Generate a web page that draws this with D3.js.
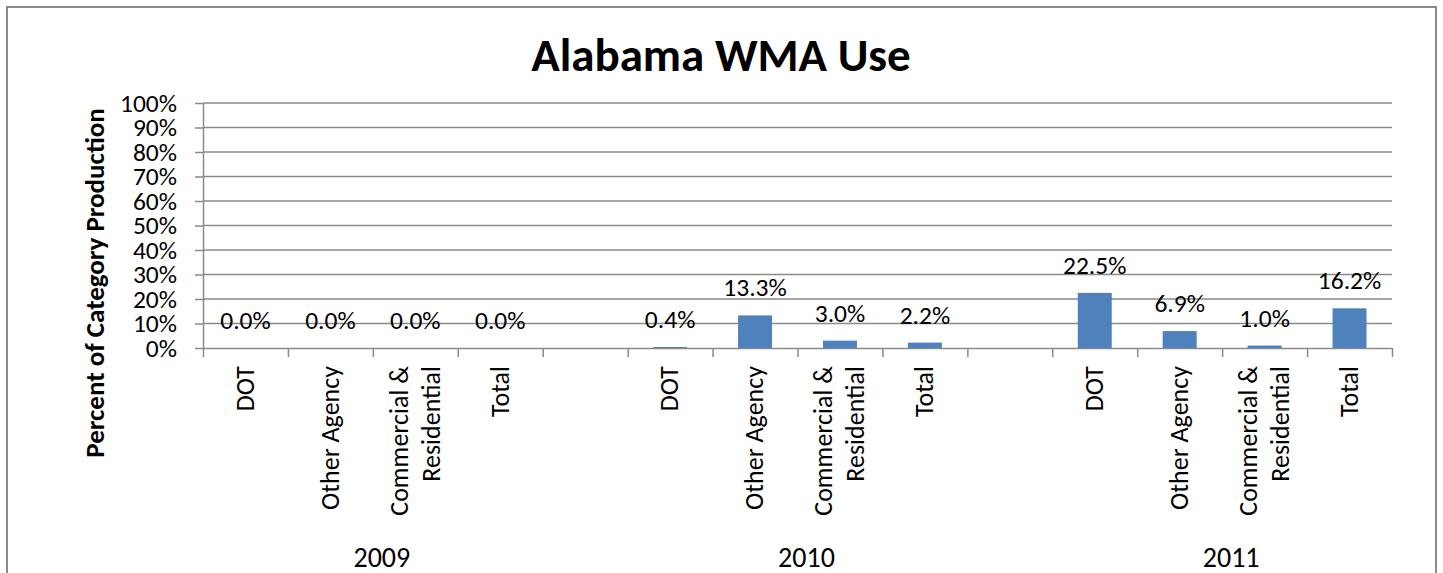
<!DOCTYPE html>
<html><head><meta charset="utf-8">
<script src="https://cdn.jsdelivr.net/npm/d3@7"></script>
<style>
html,body{margin:0;padding:0;background:#fff;}
svg{display:block;}
</style></head><body>
<svg id="chart" width="1443" height="573"></svg>
<script>
// ---- data ----
const chartTitle = "Alabama WMA Use";
const yAxisTitle = "Percent of Category Production";
const years = ["2009", "2010", "2011"];
const categories = ["DOT", "Other Agency", "Commercial & Residential", "Total"];
const categoryLines = [["DOT"], ["Other Agency"], ["Commercial &", "Residential"], ["Total"]];
const values2009 = [0.000, 0.000, 0.000, 0.000];
const values2010 = [0.004, 0.133, 0.030, 0.022];
const values2011 = [0.225, 0.069, 0.010, 0.162];
const yTickValues = [0, 0.1, 0.2, 0.3, 0.4, 0.5, 0.6, 0.7, 0.8, 0.9, 1.0];

// ---- build slots (categories per year, blank slot between years) ----
const seriesByYear = [values2009, values2010, values2011];
const slots = [];
years.forEach((yr, yi) => {
  categories.forEach((c, ci) => slots.push({key: yr + "|" + c, year: yr, cat: c, lines: categoryLines[ci], value: seriesByYear[yi][ci]}));
  if (yi < years.length - 1) slots.push({key: "gap" + yi, year: yr, cat: null, lines: [], value: null});
});

const FONT = "Calibri, Carlito, 'Liberation Sans', Arial, sans-serif";
const GRID = "#8a8a8a";
const BAR = "#4F81BD";
const plot = {left: 203, right: 1392, top: 103, bottom: 348};

const svg = d3.select("#chart").attr("font-family", FONT);

// outer border
svg.append("rect").attr("x", 7).attr("y", 7).attr("width", 1429).attr("height", 600)
  .attr("fill", "none").attr("stroke", GRID).attr("stroke-width", 2);

const x = d3.scaleBand().domain(slots.map(d => d.key))
  .range([plot.left, plot.right]).paddingInner(0.6).paddingOuter(0.3);
const xb = d3.scaleLinear().domain([0, slots.length]).range([plot.left, plot.right]);
const y = d3.scaleLinear().domain([0, 1]).range([plot.bottom, plot.top]);

// gridlines
svg.append("g").selectAll("line").data(yTickValues.filter(v => v > 0)).join("line")
  .attr("x1", plot.left).attr("x2", plot.right)
  .attr("y1", d => y(d)).attr("y2", d => y(d))
  .attr("stroke", GRID).attr("stroke-width", 1.5);

// y axis
const gy = svg.append("g").attr("transform", `translate(${plot.left},0)`)
  .call(d3.axisLeft(y).tickValues(yTickValues).tickFormat(d3.format(".0%"))
    .tickSize(8).tickPadding(18).tickSizeOuter(0));
gy.attr("font-family", FONT).attr("font-size", 25.5);
gy.selectAll("path,line").attr("stroke", GRID).attr("stroke-width", 1.5);
gy.selectAll("text").attr("fill", "#000");

// x axis (boundary ticks)
const gx = svg.append("g").attr("transform", `translate(0,${plot.bottom})`)
  .call(d3.axisBottom(xb).tickValues(d3.range(0, slots.length + 1)).tickFormat("")
    .tickSize(9).tickSizeOuter(0));
gx.selectAll("path,line").attr("stroke", GRID).attr("stroke-width", 1.5);

// bars
const dataSlots = slots.filter(d => d.value !== null);
svg.append("g").selectAll("rect").data(dataSlots).join("rect")
  .attr("x", d => x(d.key)).attr("width", x.bandwidth())
  .attr("y", d => y(d.value)).attr("height", d => y(0) - y(d.value))
  .attr("fill", BAR);

// data labels
svg.append("g").selectAll("text").data(dataSlots).join("text")
  .attr("x", d => x(d.key) + x.bandwidth() / 2)
  .attr("y", d => y(d.value) - 19)
  .attr("text-anchor", "middle").attr("font-size", 25.5).attr("fill", "#000")
  .text(d => d3.format(".1%")(d.value));

// category labels (rotated)
const catFont = 26, lineGap = 32, capH = catFont * 0.644;
const catG = svg.append("g");
dataSlots.forEach(d => {
  const cx = x(d.key) + x.bandwidth() / 2;
  const n = d.lines.length;
  d.lines.forEach((ln, i) => {
    const off = (i - (n - 1) / 2) * lineGap + capH / 2;
    catG.append("text")
      .attr("transform", `translate(${cx + off},${plot.bottom + 18}) rotate(-90)`)
      .attr("text-anchor", "end").attr("font-size", catFont).attr("fill", "#000")
      .text(ln);
  });
});

// year labels
svg.append("g").selectAll("text").data(years).join("text")
  .attr("x", yr => {
    const ks = slots.filter(s => s.year === yr && s.value !== null).map(s => s.key);
    return (x(ks[0]) + x(ks[ks.length - 1]) + x.bandwidth()) / 2 + 9;
  })
  .attr("y", 567).attr("text-anchor", "middle").attr("font-size", 28).attr("fill", "#000")
  .text(d => d);

// titles
svg.append("text").attr("x", 721).attr("y", 71).attr("text-anchor", "middle")
  .attr("font-size", 47).attr("font-weight", "bold").attr("fill", "#000").text(chartTitle);
svg.append("text").attr("transform", `translate(104,283) rotate(-90)`)
  .attr("text-anchor", "middle").attr("font-size", 27).attr("font-weight", "bold")
  .attr("fill", "#000").text(yAxisTitle);
</script>
</body></html>
